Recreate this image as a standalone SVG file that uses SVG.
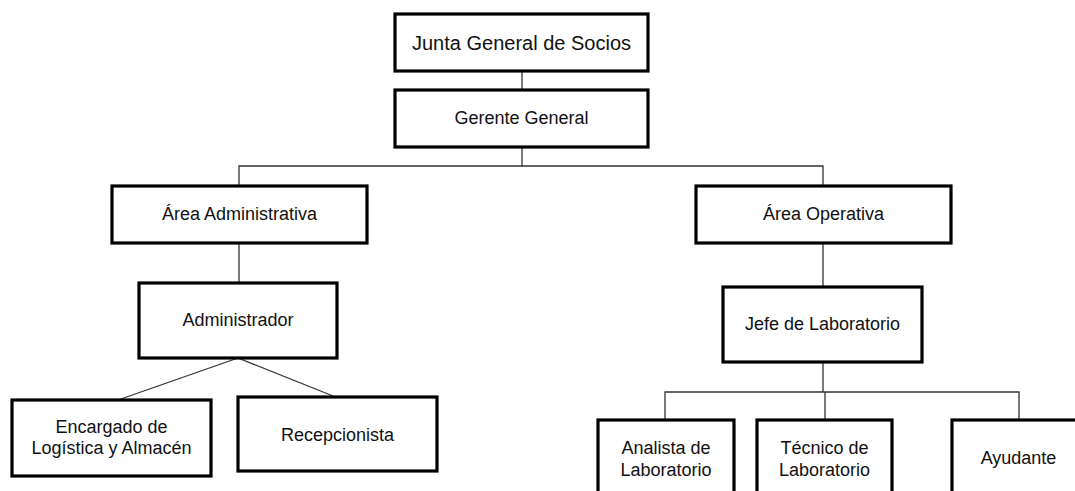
<svg xmlns="http://www.w3.org/2000/svg" width="1075" height="491" viewBox="0 0 1075 491">
<style>
.box{fill:#fff;stroke:#000;stroke-width:3.2}
.t{font-family:"Liberation Sans",Arial,sans-serif;font-size:18px;fill:#111;text-anchor:middle}
.c{fill:none;stroke:#333;stroke-width:1.3}
</style>
<rect width="1075" height="491" fill="#fff"/>
<g id="connectors">
<line class="c" x1="522" y1="71" x2="522" y2="89"/>
<polyline class="c" points="522,147 522,166"/>
<polyline class="c" points="239,185 239,166 823,166 823,186"/>
<line class="c" x1="239" y1="243" x2="239" y2="283"/>
<line class="c" x1="823" y1="243" x2="823" y2="287"/>
<line class="c" x1="238" y1="358" x2="118" y2="400"/>
<line class="c" x1="238" y1="358" x2="333" y2="396"/>
<line class="c" x1="823" y1="362" x2="823" y2="392"/>
<polyline class="c" points="665,420 665,392 1019,392 1019,420"/>
<line class="c" x1="825" y1="392" x2="825" y2="420"/>
</g>
<g id="junta">
<rect class="box" x="395" y="14" width="253" height="57"/>
<text class="t" x="521.5" y="50" style="font-size:20px">Junta General de Socios</text>
</g>
<g id="gerente">
<rect class="box" x="395" y="90" width="253" height="57"/>
<text class="t" x="521.5" y="124">Gerente General</text>
</g>
<g id="area-admin">
<rect class="box" x="112" y="186" width="255" height="57"/>
<text class="t" x="239.5" y="220">Área Administrativa</text>
</g>
<g id="administrador">
<rect class="box" x="139" y="283" width="198" height="75"/>
<text class="t" x="238" y="326">Administrador</text>
</g>
<g id="encargado">
<rect class="box" x="12" y="400" width="199" height="76"/>
<text class="t" x="111.5" y="433">Encargado de</text>
<text class="t" x="111.5" y="454">Logística y Almacén</text>
</g>
<g id="recepcionista">
<rect class="box" x="238" y="397" width="199" height="74"/>
<text class="t" x="337.5" y="441">Recepcionista</text>
</g>
<g id="area-oper">
<rect class="box" x="696" y="186" width="255" height="57"/>
<text class="t" x="823.5" y="220">Área Operativa</text>
</g>
<g id="jefe">
<rect class="box" x="723" y="287" width="199" height="75"/>
<text class="t" x="822.5" y="330">Jefe de Laboratorio</text>
</g>
<g id="analista">
<rect class="box" x="598" y="420" width="136" height="90"/>
<text class="t" x="666" y="454">Analista de</text>
<text class="t" x="666" y="476">Laboratorio</text>
</g>
<g id="tecnico">
<rect class="box" x="757" y="420" width="135" height="90"/>
<text class="t" x="824.5" y="454">Técnico de</text>
<text class="t" x="824.5" y="476">Laboratorio</text>
</g>
<g id="ayudante">
<rect class="box" x="952" y="420" width="133" height="90"/>
<text class="t" x="1018.5" y="464">Ayudante</text>
</g>
</svg>
